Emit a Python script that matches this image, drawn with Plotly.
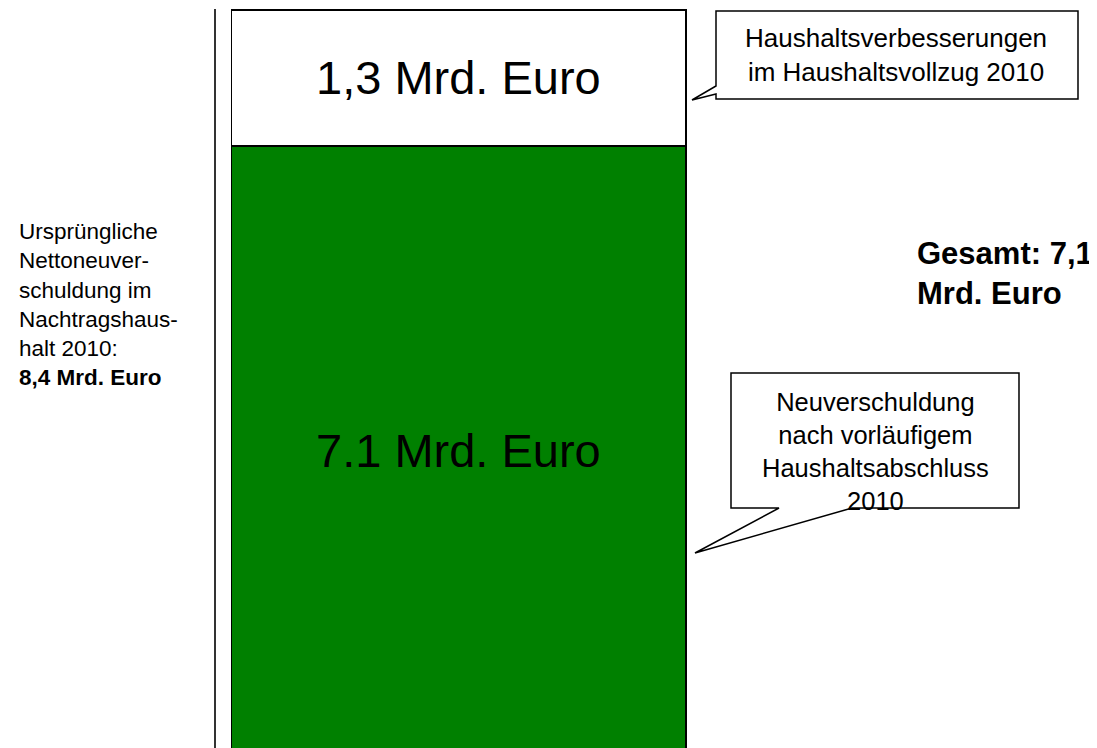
import plotly.graph_objects as go

# ---- data ----
categories = ["2010"]
neuverschuldung = [7.1]          # green segment (Mrd. Euro)
verbesserungen = [1.3]           # white segment (Mrd. Euro)
segment_labels = ["7.1 Mrd. Euro", "1,3 Mrd. Euro"]
left_note = "Ursprüngliche<br>Nettoneuver-<br>schuldung im<br>Nachtragshaus-<br>halt 2010:<br><b>8,4 Mrd. Euro</b>"
callout_top = "Haushaltsverbesserungen<br>im Haushaltsvollzug 2010"
callout_bottom = "Neuverschuldung<br>nach vorläufigem<br>Haushaltsabschluss<br>2010"
total_note = "<b>Gesamt: 7,1<br>Mrd. Euro</b>"

OFF = 8  # page body margin
W, H = 1097 - OFF, 748 - OFF
FONT = "Arial, Liberation Sans, sans-serif"

def px(x):
    return (x - OFF) / W

def py(y):
    return 1 - (y - OFF) / H

fig = go.Figure()
fig.add_trace(go.Bar(x=categories, y=neuverschuldung, width=1,
                     marker=dict(color="#008000", line=dict(color="black", width=1.5)),
                     hoverinfo="skip"))
fig.add_trace(go.Bar(x=categories, y=verbesserungen, width=1,
                     marker=dict(color="white", line=dict(color="black", width=1.5)),
                     hoverinfo="skip"))

total = neuverschuldung[0] + verbesserungen[0]
plot_h = 748 - 9
scale = 104.6
y_top = total + 1 / scale
y_bot = y_top - plot_h / scale

plot_left = 216
plot_w = 1097 - plot_left
bar_px = 686 - 231.5
x0 = -0.5 - (231.5 - plot_left) / bar_px
x1 = x0 + plot_w / bar_px

annotations = [
    dict(x=0, y=(total + neuverschuldung[0]) / 2, xref="x", yref="y",
         text=segment_labels[1], showarrow=False,
         font=dict(size=47, color="black", family=FONT), xanchor="center", yanchor="middle"),
    dict(x=0, y=py(450), xref="x", yref="paper",
         text=segment_labels[0], showarrow=False,
         font=dict(size=47, color="black", family=FONT), xanchor="center", yanchor="middle"),
    dict(x=px(17), y=py(304), xref="paper", yref="paper", text=left_note,
         showarrow=False, align="left", xanchor="left", yanchor="middle",
         font=dict(size=22.5, color="black", family=FONT)),
    dict(x=px(896), y=py(55), xref="paper", yref="paper", text=callout_top,
         showarrow=False, align="center", xanchor="center", yanchor="middle",
         font=dict(size=26, color="black", family=FONT)),
    dict(x=px(875), y=py(451), xref="paper", yref="paper", text=callout_bottom,
         showarrow=False, align="center", xanchor="center", yanchor="middle",
         font=dict(size=25.5, color="black", family=FONT)),
    dict(x=px(915), y=py(273), xref="paper", yref="paper", text=total_note,
         showarrow=False, align="left", xanchor="left", yanchor="middle",
         font=dict(size=31, color="black", family=FONT)),
]

def path(points):
    return "M " + " L ".join(f"{px(x):.5f},{py(y):.5f}" for x, y in points) + " Z"

shapes = [
    dict(type="path", xref="paper", yref="paper",
         path=path([(716, 11), (1078, 11), (1078, 99), (716, 99), (716, 94), (692, 100), (716, 86)]),
         line=dict(color="black", width=1.5), fillcolor="rgba(0,0,0,0)"),
    dict(type="path", xref="paper", yref="paper",
         path=path([(731, 373), (1019, 373), (1019, 508), (852, 508), (695, 553), (779, 508), (731, 508)]),
         line=dict(color="black", width=1.5), fillcolor="rgba(0,0,0,0)"),
]

fig.update_layout(
    width=W, height=H, barmode="stack", showlegend=False,
    margin=dict(l=0, r=0, t=0, b=0),
    paper_bgcolor="white", plot_bgcolor="white",
    xaxis=dict(domain=[px(plot_left), 1], range=[x0, x1], type="category",
               showgrid=False, zeroline=False, showticklabels=False, ticks="", showline=False),
    yaxis=dict(domain=[0, py(9)], range=[y_bot, y_top],
               showgrid=False, zeroline=False, showticklabels=False, ticks="",
               showline=True, linecolor="#333333", linewidth=2),
    annotations=annotations, shapes=shapes,
)

fig.write_html("out.html")
